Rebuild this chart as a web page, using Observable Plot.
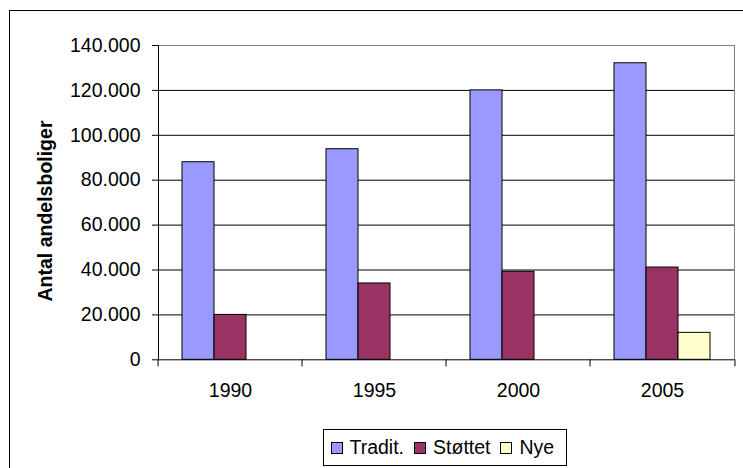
<!DOCTYPE html>
<html>
<head>
<meta charset="utf-8">
<script src="https://cdn.jsdelivr.net/npm/d3@7"></script>
<script src="https://cdn.jsdelivr.net/npm/@observablehq/plot@0.6"></script>
<style>
  html, body { margin: 0; padding: 0; background: #fff; }
  #wrap { position: relative; width: 743px; height: 468px; overflow: hidden; font-family: "Liberation Sans", Arial, sans-serif; }
  #border { position: absolute; left: 9px; top: 10px; width: 900px; height: 600px; border-left: 1px solid #000; border-top: 1px solid #000; box-sizing: border-box; }
  #chart { position: absolute; left: 0; top: 0; }
  #ylabel { position: absolute; left: 45px; top: 211px; transform: translate(-50%, -50%) rotate(-90deg); white-space: nowrap; font-weight: bold; font-size: 19.5px; color: #000; }
  #legend { position: absolute; left: 322.5px; top: 429px; width: 244px; height: 37px; border: 1px solid #000; box-sizing: border-box; display: flex; align-items: center; padding-left: 7px; font-size: 19.5px; color: #000; }
  .item { display: flex; align-items: center; margin-right: 10px; }
  .sw { width: 10px; height: 10px; border: 1px solid #000; margin-right: 7px; }
</style>
</head>
<body>
<div id="wrap">
  <div id="border"></div>
  <div id="chart"></div>
  <div id="ylabel">Antal andelsboliger</div>
  <div id="legend"></div>
</div>
<script>
const years = ["1990", "1995", "2000", "2005"];
const series = ["Tradit.", "Støttet", "Nye"];
const tradit = [88000, 93800, 120000, 132100];
const stottet = [20000, 34000, 39200, 41100];
const nye = [null, null, null, 12000];
const colors = ["#9999FF", "#993366", "#FFFFCC"];
const yTicks = [0, 20000, 40000, 60000, 80000, 100000, 120000, 140000];

const values = [tradit, stottet, nye];
const data = [];
years.forEach((yr, i) => series.forEach((s, j) => {
  if (values[j][i] != null) data.push({year: yr, series: s, value: values[j][i]});
}));

const W = 743, H = 420, mL = 156, mR = 7.3, mT = 45, mB = 60.7;
const fxBand = (W - mL - mR) / years.length;
const fmt = d3.formatLocale({decimal: ",", thousands: ".", grouping: [3]}).format(",");

const chart = Plot.plot({
  width: W, height: H,
  marginLeft: mL, marginRight: mR, marginTop: mT, marginBottom: mB,
  style: {fontFamily: "'Liberation Sans', Arial, sans-serif", fontSize: "19.5px", color: "#000", background: "transparent", overflow: "visible"},
  fx: {domain: years, padding: 0, axis: null, label: null},
  x: {domain: series, paddingInner: 0, paddingOuter: 0.75, axis: null},
  y: {domain: [0, 140000], axis: null},
  color: {domain: series, range: colors},
  marks: [
    Plot.ruleY(yTicks.slice(1, -1), {stroke: "#000", strokeWidth: 1}),
    Plot.ruleY([yTicks[yTicks.length - 1]], {stroke: "#808080", strokeWidth: 1}),
    Plot.frame({anchor: "right", facetAnchor: "right", stroke: "#808080"}),
    Plot.barY(data, {fx: "year", x: "series", y: "value", fill: "series", stroke: "#000", strokeWidth: 1}),
    Plot.ruleY([0], {stroke: "#000", strokeWidth: 1}),
    Plot.frame({anchor: "left", facetAnchor: "left", stroke: "#000"}),
    Plot.axisY({ticks: yTicks, tickFormat: fmt, tickSize: 6, tickPadding: 12, stroke: "#000", fill: "#000", label: null}),
    Plot.axisFx({anchor: "bottom", tickSize: 7, tickFormat: () => "", dx: -fxBand / 2, stroke: "#000", label: null}),
    Plot.axisFx({anchor: "bottom", ticks: [years[years.length - 1]], tickSize: 7, tickFormat: () => "", dx: fxBand / 2, stroke: "#000", label: null}),
    Plot.axisFx({anchor: "bottom", tickSize: 0, tickPadding: 23, fill: "#000", label: null})
  ]
});
document.getElementById("chart").appendChild(chart);

const legend = document.getElementById("legend");
series.forEach((s, j) => {
  const it = document.createElement("div");
  it.className = "item";
  const sw = document.createElement("div");
  sw.className = "sw";
  sw.style.background = colors[j];
  const t = document.createElement("span");
  t.textContent = s;
  it.appendChild(sw);
  it.appendChild(t);
  legend.appendChild(it);
});
</script>
</body>
</html>
